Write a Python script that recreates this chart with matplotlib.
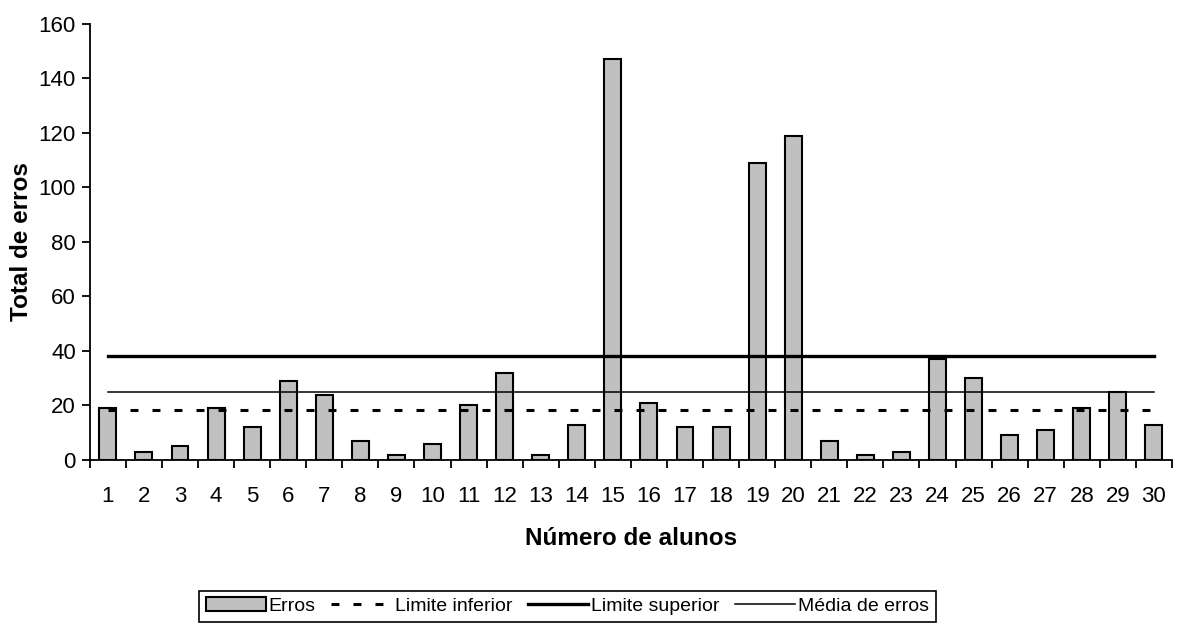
import matplotlib
matplotlib.use('Agg')
import matplotlib.pyplot as plt
import numpy as np

plt.rcParams['font.family'] = ['Liberation Sans', 'DejaVu Sans']

alunos = list(range(1, 31))
erros = [19, 3, 5, 19, 12, 29, 24, 7, 2, 6,
         20, 32, 2, 13, 147, 21, 12, 12, 109, 119,
         7, 2, 3, 37, 30, 9, 11, 19, 25, 13]
limite_inferior = 18.5
limite_superior = 38
media_erros = 25

fig = plt.figure(figsize=(11.82, 6.25), dpi=100)
ax = fig.add_axes([0.076, 0.264, 0.9155, 0.698])

x = np.arange(len(alunos))
ax.bar(x, erros, width=0.47, color='#c0c0c0', edgecolor='black', linewidth=1.5,
       label='Erros', zorder=2)
ax.plot([x[0], x[-1]], [limite_inferior] * 2, color='black', linewidth=2.2,
        linestyle=(0, (2.6, 4.6)), label='Limite inferior', zorder=3)
ax.plot([x[0], x[-1]], [limite_superior] * 2, color='black', linewidth=2.4,
        label='Limite superior', zorder=3)
ax.plot([x[0], x[-1]], [media_erros] * 2, color='black', linewidth=1.1,
        label='Média de erros', zorder=3)

ax.set_xlim(-0.5, len(alunos) - 0.5)
ax.set_ylim(0, 160)
ax.set_yticks(range(0, 161, 20))
ax.set_xticks(x)
ax.set_xticklabels([str(a) for a in alunos])
ax.set_xticks(np.arange(-0.5, len(alunos), 1), minor=True)
ax.tick_params(axis='x', which='major', length=0, labelsize=16, pad=19)
ax.tick_params(axis='x', which='minor', length=6, width=1.3, direction='out')
ax.tick_params(axis='y', length=6, width=1.3, direction='out', labelsize=16, pad=4)

for s in ['top', 'right']:
    ax.spines[s].set_visible(False)
for s in ['left', 'bottom']:
    ax.spines[s].set_linewidth(1.3)

ax.set_xlabel('Número de alunos', fontsize=17.5, fontweight='bold', labelpad=14)
ax.set_ylabel('Total de erros', fontsize=17.5, fontweight='bold', labelpad=4)

handles, labels = ax.get_legend_handles_labels()
order = [labels.index(l) for l in ['Erros', 'Limite inferior', 'Limite superior', 'Média de erros']]
leg = fig.legend([handles[i] for i in order], [labels[i] for i in order],
                 loc='lower center', bbox_to_anchor=(0.48, 0.005), ncol=4,
                 fontsize=14, frameon=True, fancybox=False, framealpha=1,
                 edgecolor='black', handlelength=3.1, handleheight=0.7,
                 handletextpad=0.15, columnspacing=0.8, borderpad=0.35,
                 borderaxespad=0)
leg.get_frame().set_linewidth(1.2)

fig.savefig('out.png', dpi=100)
